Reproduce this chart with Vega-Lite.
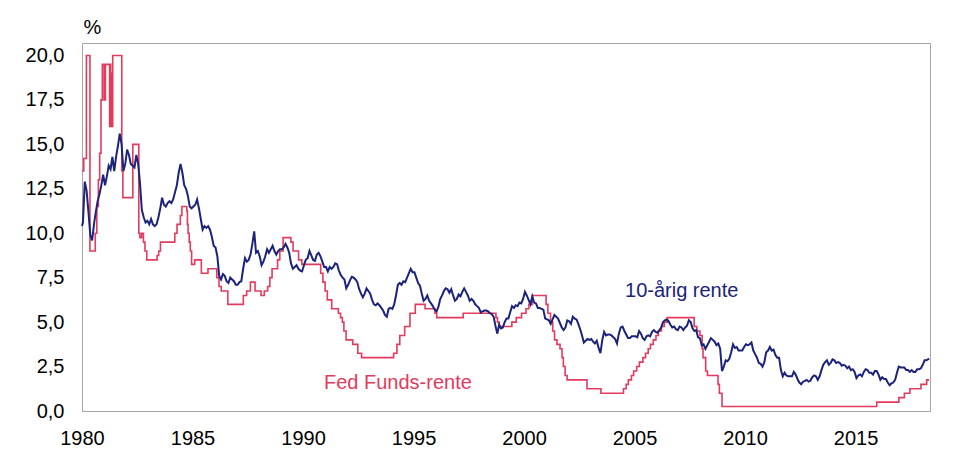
{
"$schema": "https://vega.github.io/schema/vega-lite/v6.json",
"width": 848, "height": 368,
"autosize": "none",
"padding": {"left": 82, "top": 43, "right": 30, "bottom": 63},
"background": "white",
"config": {
  "view": {"stroke": "#a6a6a6", "strokeWidth": 1},
  "font": "Liberation Sans",
  "axis": {"grid": false, "ticks": false, "domain": false, "labelFlush": false, "labelFont": "Liberation Sans", "labelFontSize": 20, "labelColor": "#000000"}
},
"datasets": {
"ff": [
{"t":1980.0,"v":13.5},{"t":1980.08,"v":14.2},{"t":1980.2,"v":20.0},{"t":1980.36,"v":9.0},{"t":1980.6,"v":10.0},{"t":1980.67,"v":11.5},{"t":1980.74,"v":13.0},{"t":1980.8,"v":14.5},{"t":1980.86,"v":17.5},{"t":1980.92,"v":19.5},{"t":1981.0,"v":17.5},{"t":1981.02,"v":19.5},{"t":1981.04,"v":17.5},{"t":1981.06,"v":19.5},{"t":1981.25,"v":16.0},{"t":1981.28,"v":19.5},{"t":1981.3,"v":16.0},{"t":1981.33,"v":19.0},{"t":1981.36,"v":16.0},{"t":1981.39,"v":20.0},{"t":1981.8,"v":13.5},{"t":1981.85,"v":12.0},{"t":1982.3,"v":15.0},{"t":1982.57,"v":10.0},{"t":1982.62,"v":9.75},{"t":1982.7,"v":10.0},{"t":1982.78,"v":9.5},{"t":1982.85,"v":9.0},{"t":1982.93,"v":8.5},{"t":1983.4,"v":8.75},{"t":1983.47,"v":9.0},{"t":1983.55,"v":9.5},{"t":1984.2,"v":10.0},{"t":1984.3,"v":10.5},{"t":1984.45,"v":11.0},{"t":1984.52,"v":11.5},{"t":1984.74,"v":11.25},{"t":1984.77,"v":10.5},{"t":1984.8,"v":10.0},{"t":1984.85,"v":9.5},{"t":1984.9,"v":9.0},{"t":1984.96,"v":8.25},{"t":1985.1,"v":8.5},{"t":1985.4,"v":7.75},{"t":1985.7,"v":8.0},{"t":1986.1,"v":7.5},{"t":1986.2,"v":7.0},{"t":1986.3,"v":6.75},{"t":1986.6,"v":6.0},{"t":1987.3,"v":6.5},{"t":1987.45,"v":6.75},{"t":1987.62,"v":7.25},{"t":1987.83,"v":6.75},{"t":1988.1,"v":6.5},{"t":1988.25,"v":6.75},{"t":1988.4,"v":7.0},{"t":1988.5,"v":7.5},{"t":1988.6,"v":8.0},{"t":1988.85,"v":8.5},{"t":1988.95,"v":9.0},{"t":1989.1,"v":9.75},{"t":1989.45,"v":9.5},{"t":1989.55,"v":9.0},{"t":1989.8,"v":8.5},{"t":1989.95,"v":8.25},{"t":1990.8,"v":7.75},{"t":1990.9,"v":7.25},{"t":1991.0,"v":6.75},{"t":1991.1,"v":6.25},{"t":1991.3,"v":5.75},{"t":1991.6,"v":5.5},{"t":1991.7,"v":5.25},{"t":1991.78,"v":5.0},{"t":1991.85,"v":4.5},{"t":1991.95,"v":4.0},{"t":1992.25,"v":3.75},{"t":1992.48,"v":3.25},{"t":1992.65,"v":3.0},{"t":1994.1,"v":3.25},{"t":1994.25,"v":3.75},{"t":1994.38,"v":4.25},{"t":1994.6,"v":4.75},{"t":1994.84,"v":5.5},{"t":1995.08,"v":6.0},{"t":1995.52,"v":5.75},{"t":1995.97,"v":5.5},{"t":1996.05,"v":5.25},{"t":1997.25,"v":5.5},{"t":1998.73,"v":5.25},{"t":1998.8,"v":5.0},{"t":1998.88,"v":4.75},{"t":1999.45,"v":5.0},{"t":1999.65,"v":5.25},{"t":1999.89,"v":5.5},{"t":2000.09,"v":5.75},{"t":2000.22,"v":6.0},{"t":2000.38,"v":6.5},{"t":2001.0,"v":6.0},{"t":2001.08,"v":5.5},{"t":2001.2,"v":5.0},{"t":2001.3,"v":4.5},{"t":2001.38,"v":4.0},{"t":2001.49,"v":3.75},{"t":2001.63,"v":3.5},{"t":2001.72,"v":3.0},{"t":2001.78,"v":2.5},{"t":2001.86,"v":2.0},{"t":2001.95,"v":1.75},{"t":2002.85,"v":1.25},{"t":2003.48,"v":1.0},{"t":2004.5,"v":1.25},{"t":2004.62,"v":1.5},{"t":2004.72,"v":1.75},{"t":2004.86,"v":2.0},{"t":2004.96,"v":2.25},{"t":2005.1,"v":2.5},{"t":2005.22,"v":2.75},{"t":2005.38,"v":3.0},{"t":2005.5,"v":3.25},{"t":2005.62,"v":3.5},{"t":2005.72,"v":3.75},{"t":2005.85,"v":4.0},{"t":2005.97,"v":4.25},{"t":2006.08,"v":4.5},{"t":2006.22,"v":4.75},{"t":2006.35,"v":5.0},{"t":2006.48,"v":5.25},{"t":2007.7,"v":4.75},{"t":2007.82,"v":4.5},{"t":2007.96,"v":4.25},{"t":2008.06,"v":3.5},{"t":2008.1,"v":3.0},{"t":2008.22,"v":2.25},{"t":2008.3,"v":2.0},{"t":2008.78,"v":1.5},{"t":2008.84,"v":1.0},{"t":2008.96,"v":0.25},{"t":2015.96,"v":0.5},{"t":2016.96,"v":0.75},{"t":2017.21,"v":1.0},{"t":2017.46,"v":1.25},{"t":2017.96,"v":1.5},{"t":2018.22,"v":1.75},{"t":2018.33,"v":1.75}
],
"ust": [
{"t":1980.0,"v":10.4},
{"t":1980.042,"v":10.6},{"t":1980.125,"v":12.9},{"t":1980.208,"v":12.4},{"t":1980.292,"v":11.2},{"t":1980.375,"v":9.9},{"t":1980.458,"v":9.6},{"t":1980.542,"v":10.5},{"t":1980.625,"v":11.2},{"t":1980.708,"v":11.8},{"t":1980.792,"v":12.2},{"t":1980.875,"v":12.7},{"t":1980.958,"v":13.3},
{"t":1981.042,"v":12.7},{"t":1981.125,"v":13.2},{"t":1981.208,"v":13.8},{"t":1981.292,"v":13.6},{"t":1981.375,"v":14.3},{"t":1981.458,"v":13.5},{"t":1981.542,"v":14.3},{"t":1981.625,"v":14.9},{"t":1981.708,"v":15.6},{"t":1981.792,"v":15.0},{"t":1981.875,"v":13.5},{"t":1981.958,"v":13.9},
{"t":1982.042,"v":14.7},{"t":1982.125,"v":14.4},{"t":1982.208,"v":13.9},{"t":1982.292,"v":13.8},{"t":1982.375,"v":13.7},{"t":1982.458,"v":14.4},{"t":1982.542,"v":13.9},{"t":1982.625,"v":12.8},{"t":1982.708,"v":11.3},{"t":1982.792,"v":10.9},{"t":1982.875,"v":10.6},{"t":1982.958,"v":10.7},
{"t":1983.042,"v":10.5},{"t":1983.125,"v":10.8},{"t":1983.208,"v":10.5},{"t":1983.292,"v":10.4},{"t":1983.375,"v":10.5},{"t":1983.458,"v":10.9},{"t":1983.542,"v":11.4},{"t":1983.625,"v":12.0},{"t":1983.708,"v":11.6},{"t":1983.792,"v":11.5},{"t":1983.875,"v":11.7},{"t":1983.958,"v":11.8},
{"t":1984.042,"v":11.7},{"t":1984.125,"v":11.9},{"t":1984.208,"v":12.3},{"t":1984.292,"v":12.7},{"t":1984.375,"v":13.4},{"t":1984.458,"v":13.9},{"t":1984.542,"v":13.4},{"t":1984.625,"v":12.7},{"t":1984.708,"v":12.5},{"t":1984.792,"v":12.1},{"t":1984.875,"v":11.5},{"t":1984.958,"v":11.4},
{"t":1985.042,"v":11.5},{"t":1985.125,"v":11.6},{"t":1985.208,"v":11.9},{"t":1985.292,"v":11.4},{"t":1985.375,"v":10.8},{"t":1985.458,"v":10.2},{"t":1985.542,"v":10.4},{"t":1985.625,"v":10.3},{"t":1985.708,"v":10.4},{"t":1985.792,"v":10.2},{"t":1985.875,"v":9.8},{"t":1985.958,"v":9.3},
{"t":1986.042,"v":9.2},{"t":1986.125,"v":8.7},{"t":1986.208,"v":7.6},{"t":1986.292,"v":7.4},{"t":1986.375,"v":7.7},{"t":1986.458,"v":7.6},{"t":1986.542,"v":7.3},{"t":1986.625,"v":7.2},{"t":1986.708,"v":7.5},{"t":1986.792,"v":7.4},{"t":1986.875,"v":7.3},{"t":1986.958,"v":7.1},
{"t":1987.042,"v":7.1},{"t":1987.125,"v":7.25},{"t":1987.208,"v":7.3},{"t":1987.292,"v":8.0},{"t":1987.375,"v":8.6},{"t":1987.458,"v":8.4},{"t":1987.542,"v":8.5},{"t":1987.625,"v":8.8},{"t":1987.708,"v":9.4},{"t":1987.792,"v":10.1},{"t":1987.875,"v":8.9},{"t":1987.958,"v":9.0},
{"t":1988.042,"v":8.7},{"t":1988.125,"v":8.2},{"t":1988.208,"v":8.4},{"t":1988.292,"v":8.7},{"t":1988.375,"v":9.1},{"t":1988.458,"v":8.9},{"t":1988.542,"v":9.1},{"t":1988.625,"v":9.3},{"t":1988.708,"v":9.0},{"t":1988.792,"v":8.8},{"t":1988.875,"v":9.0},{"t":1988.958,"v":9.1},
{"t":1989.042,"v":9.1},{"t":1989.125,"v":9.2},{"t":1989.208,"v":9.4},{"t":1989.292,"v":9.2},{"t":1989.375,"v":8.9},{"t":1989.458,"v":8.3},{"t":1989.542,"v":8.0},{"t":1989.625,"v":8.1},{"t":1989.708,"v":8.2},{"t":1989.792,"v":8.0},{"t":1989.875,"v":7.9},{"t":1989.958,"v":7.85},
{"t":1990.042,"v":8.2},{"t":1990.125,"v":8.5},{"t":1990.208,"v":8.6},{"t":1990.292,"v":9.0},{"t":1990.375,"v":8.75},{"t":1990.458,"v":8.5},{"t":1990.542,"v":8.45},{"t":1990.625,"v":8.8},{"t":1990.708,"v":8.9},{"t":1990.792,"v":8.7},{"t":1990.875,"v":8.4},{"t":1990.958,"v":8.1},
{"t":1991.042,"v":8.1},{"t":1991.125,"v":7.85},{"t":1991.208,"v":8.1},{"t":1991.292,"v":8.0},{"t":1991.375,"v":8.1},{"t":1991.458,"v":8.3},{"t":1991.542,"v":8.25},{"t":1991.625,"v":7.9},{"t":1991.708,"v":7.65},{"t":1991.792,"v":7.5},{"t":1991.875,"v":7.4},{"t":1991.958,"v":6.9},
{"t":1992.042,"v":7.1},{"t":1992.125,"v":7.35},{"t":1992.208,"v":7.55},{"t":1992.292,"v":7.5},{"t":1992.375,"v":7.4},{"t":1992.458,"v":7.25},{"t":1992.542,"v":6.85},{"t":1992.625,"v":6.6},{"t":1992.708,"v":6.4},{"t":1992.792,"v":6.6},{"t":1992.875,"v":6.9},{"t":1992.958,"v":6.75},
{"t":1993.042,"v":6.6},{"t":1993.125,"v":6.25},{"t":1993.208,"v":6.0},{"t":1993.292,"v":5.95},{"t":1993.375,"v":6.05},{"t":1993.458,"v":5.95},{"t":1993.542,"v":5.8},{"t":1993.625,"v":5.65},{"t":1993.708,"v":5.4},{"t":1993.792,"v":5.3},{"t":1993.875,"v":5.75},{"t":1993.958,"v":5.8},
{"t":1994.042,"v":5.75},{"t":1994.125,"v":6.0},{"t":1994.208,"v":6.5},{"t":1994.292,"v":7.1},{"t":1994.375,"v":7.2},{"t":1994.458,"v":7.1},{"t":1994.542,"v":7.3},{"t":1994.625,"v":7.25},{"t":1994.708,"v":7.5},{"t":1994.792,"v":7.75},{"t":1994.875,"v":8.0},{"t":1994.958,"v":7.8},
{"t":1995.042,"v":7.8},{"t":1995.125,"v":7.5},{"t":1995.208,"v":7.2},{"t":1995.292,"v":7.05},{"t":1995.375,"v":6.6},{"t":1995.458,"v":6.2},{"t":1995.542,"v":6.3},{"t":1995.625,"v":6.5},{"t":1995.708,"v":6.2},{"t":1995.792,"v":6.05},{"t":1995.875,"v":5.9},{"t":1995.958,"v":5.7},
{"t":1996.042,"v":5.6},{"t":1996.125,"v":5.85},{"t":1996.208,"v":6.3},{"t":1996.292,"v":6.5},{"t":1996.375,"v":6.75},{"t":1996.458,"v":6.9},{"t":1996.542,"v":6.85},{"t":1996.625,"v":6.65},{"t":1996.708,"v":6.85},{"t":1996.792,"v":6.5},{"t":1996.875,"v":6.2},{"t":1996.958,"v":6.3},
{"t":1997.042,"v":6.55},{"t":1997.125,"v":6.45},{"t":1997.208,"v":6.7},{"t":1997.292,"v":6.9},{"t":1997.375,"v":6.7},{"t":1997.458,"v":6.5},{"t":1997.542,"v":6.2},{"t":1997.625,"v":6.3},{"t":1997.708,"v":6.2},{"t":1997.792,"v":6.0},{"t":1997.875,"v":5.9},{"t":1997.958,"v":5.8},
{"t":1998.042,"v":5.55},{"t":1998.125,"v":5.6},{"t":1998.208,"v":5.65},{"t":1998.292,"v":5.65},{"t":1998.375,"v":5.6},{"t":1998.458,"v":5.5},{"t":1998.542,"v":5.45},{"t":1998.625,"v":5.3},{"t":1998.708,"v":4.8},{"t":1998.792,"v":4.35},{"t":1998.875,"v":4.85},{"t":1998.958,"v":4.65},
{"t":1999.042,"v":4.7},{"t":1999.125,"v":5.0},{"t":1999.208,"v":5.2},{"t":1999.292,"v":5.2},{"t":1999.375,"v":5.55},{"t":1999.458,"v":5.9},{"t":1999.542,"v":5.8},{"t":1999.625,"v":5.95},{"t":1999.708,"v":5.9},{"t":1999.792,"v":6.1},{"t":1999.875,"v":6.05},{"t":1999.958,"v":6.3},
{"t":2000.042,"v":6.7},{"t":2000.125,"v":6.5},{"t":2000.208,"v":6.25},{"t":2000.292,"v":6.0},{"t":2000.375,"v":6.45},{"t":2000.458,"v":6.1},{"t":2000.542,"v":6.05},{"t":2000.625,"v":5.8},{"t":2000.708,"v":5.8},{"t":2000.792,"v":5.75},{"t":2000.875,"v":5.7},{"t":2000.958,"v":5.2},
{"t":2001.042,"v":5.15},{"t":2001.125,"v":5.1},{"t":2001.208,"v":4.9},{"t":2001.292,"v":5.15},{"t":2001.375,"v":5.4},{"t":2001.458,"v":5.3},{"t":2001.542,"v":5.2},{"t":2001.625,"v":4.95},{"t":2001.708,"v":4.7},{"t":2001.792,"v":4.55},{"t":2001.875,"v":4.7},{"t":2001.958,"v":5.1},
{"t":2002.042,"v":5.05},{"t":2002.125,"v":4.9},{"t":2002.208,"v":5.3},{"t":2002.292,"v":5.2},{"t":2002.375,"v":5.15},{"t":2002.458,"v":4.9},{"t":2002.542,"v":4.6},{"t":2002.625,"v":4.25},{"t":2002.708,"v":3.85},{"t":2002.792,"v":3.95},{"t":2002.875,"v":4.05},{"t":2002.958,"v":4.0},
{"t":2003.042,"v":4.05},{"t":2003.125,"v":3.9},{"t":2003.208,"v":3.8},{"t":2003.292,"v":3.95},{"t":2003.375,"v":3.55},{"t":2003.458,"v":3.25},{"t":2003.542,"v":4.0},{"t":2003.625,"v":4.45},{"t":2003.708,"v":4.25},{"t":2003.792,"v":4.3},{"t":2003.875,"v":4.3},{"t":2003.958,"v":4.25},
{"t":2004.042,"v":4.15},{"t":2004.125,"v":4.05},{"t":2004.208,"v":3.8},{"t":2004.292,"v":4.35},{"t":2004.375,"v":4.7},{"t":2004.458,"v":4.75},{"t":2004.542,"v":4.5},{"t":2004.625,"v":4.3},{"t":2004.708,"v":4.1},{"t":2004.792,"v":4.1},{"t":2004.875,"v":4.2},{"t":2004.958,"v":4.2},
{"t":2005.042,"v":4.2},{"t":2005.125,"v":4.15},{"t":2005.208,"v":4.5},{"t":2005.292,"v":4.35},{"t":2005.375,"v":4.1},{"t":2005.458,"v":4.0},{"t":2005.542,"v":4.2},{"t":2005.625,"v":4.25},{"t":2005.708,"v":4.2},{"t":2005.792,"v":4.45},{"t":2005.875,"v":4.55},{"t":2005.958,"v":4.45},
{"t":2006.042,"v":4.4},{"t":2006.125,"v":4.55},{"t":2006.208,"v":4.7},{"t":2006.292,"v":5.0},{"t":2006.375,"v":5.1},{"t":2006.458,"v":5.15},{"t":2006.542,"v":5.05},{"t":2006.625,"v":4.85},{"t":2006.708,"v":4.7},{"t":2006.792,"v":4.75},{"t":2006.875,"v":4.6},{"t":2006.958,"v":4.55},
{"t":2007.042,"v":4.75},{"t":2007.125,"v":4.7},{"t":2007.208,"v":4.55},{"t":2007.292,"v":4.7},{"t":2007.375,"v":4.8},{"t":2007.458,"v":5.1},{"t":2007.542,"v":5.0},{"t":2007.625,"v":4.65},{"t":2007.708,"v":4.5},{"t":2007.792,"v":4.55},{"t":2007.875,"v":4.15},{"t":2007.958,"v":4.1},
{"t":2008.042,"v":3.7},{"t":2008.125,"v":3.75},{"t":2008.208,"v":3.5},{"t":2008.292,"v":3.7},{"t":2008.375,"v":3.9},{"t":2008.458,"v":4.1},{"t":2008.542,"v":4.0},{"t":2008.625,"v":3.9},{"t":2008.708,"v":3.7},{"t":2008.792,"v":3.8},{"t":2008.875,"v":3.5},{"t":2008.958,"v":2.25},
{"t":2009.042,"v":2.5},{"t":2009.125,"v":2.85},{"t":2009.208,"v":2.8},{"t":2009.292,"v":2.95},{"t":2009.375,"v":3.3},{"t":2009.458,"v":3.75},{"t":2009.542,"v":3.55},{"t":2009.625,"v":3.6},{"t":2009.708,"v":3.4},{"t":2009.792,"v":3.4},{"t":2009.875,"v":3.4},{"t":2009.958,"v":3.6},
{"t":2010.042,"v":3.75},{"t":2010.125,"v":3.7},{"t":2010.208,"v":3.75},{"t":2010.292,"v":3.85},{"t":2010.375,"v":3.4},{"t":2010.458,"v":3.2},{"t":2010.542,"v":3.0},{"t":2010.625,"v":2.7},{"t":2010.708,"v":2.65},{"t":2010.792,"v":2.5},{"t":2010.875,"v":2.75},{"t":2010.958,"v":3.3},
{"t":2011.042,"v":3.4},{"t":2011.125,"v":3.6},{"t":2011.208,"v":3.4},{"t":2011.292,"v":3.45},{"t":2011.375,"v":3.15},{"t":2011.458,"v":3.0},{"t":2011.542,"v":3.0},{"t":2011.625,"v":2.3},{"t":2011.708,"v":1.95},{"t":2011.792,"v":2.15},{"t":2011.875,"v":2.0},{"t":2011.958,"v":1.95},
{"t":2012.042,"v":1.95},{"t":2012.125,"v":1.95},{"t":2012.208,"v":2.2},{"t":2012.292,"v":2.05},{"t":2012.375,"v":1.8},{"t":2012.458,"v":1.6},{"t":2012.542,"v":1.5},{"t":2012.625,"v":1.65},{"t":2012.708,"v":1.7},{"t":2012.792,"v":1.75},{"t":2012.875,"v":1.65},{"t":2012.958,"v":1.7},
{"t":2013.042,"v":1.9},{"t":2013.125,"v":2.0},{"t":2013.208,"v":1.95},{"t":2013.292,"v":1.75},{"t":2013.375,"v":1.95},{"t":2013.458,"v":2.3},{"t":2013.542,"v":2.6},{"t":2013.625,"v":2.75},{"t":2013.708,"v":2.85},{"t":2013.792,"v":2.6},{"t":2013.875,"v":2.7},{"t":2013.958,"v":2.9},
{"t":2014.042,"v":2.85},{"t":2014.125,"v":2.7},{"t":2014.208,"v":2.75},{"t":2014.292,"v":2.7},{"t":2014.375,"v":2.55},{"t":2014.458,"v":2.6},{"t":2014.542,"v":2.55},{"t":2014.625,"v":2.4},{"t":2014.708,"v":2.5},{"t":2014.792,"v":2.3},{"t":2014.875,"v":2.35},{"t":2014.958,"v":2.2},
{"t":2015.042,"v":1.85},{"t":2015.125,"v":2.0},{"t":2015.208,"v":2.05},{"t":2015.292,"v":1.95},{"t":2015.375,"v":2.2},{"t":2015.458,"v":2.35},{"t":2015.542,"v":2.3},{"t":2015.625,"v":2.15},{"t":2015.708,"v":2.15},{"t":2015.792,"v":2.05},{"t":2015.875,"v":2.25},{"t":2015.958,"v":2.25},
{"t":2016.042,"v":2.05},{"t":2016.125,"v":1.75},{"t":2016.208,"v":1.9},{"t":2016.292,"v":1.8},{"t":2016.375,"v":1.8},{"t":2016.458,"v":1.6},{"t":2016.542,"v":1.45},{"t":2016.625,"v":1.55},{"t":2016.708,"v":1.6},{"t":2016.792,"v":1.75},{"t":2016.875,"v":2.15},{"t":2016.958,"v":2.5},
{"t":2017.042,"v":2.45},{"t":2017.125,"v":2.45},{"t":2017.208,"v":2.45},{"t":2017.292,"v":2.3},{"t":2017.375,"v":2.3},{"t":2017.458,"v":2.2},{"t":2017.542,"v":2.3},{"t":2017.625,"v":2.2},{"t":2017.708,"v":2.2},{"t":2017.792,"v":2.35},{"t":2017.875,"v":2.35},{"t":2017.958,"v":2.4},
{"t":2018.042,"v":2.6},{"t":2018.125,"v":2.85},{"t":2018.208,"v":2.85},{"t":2018.33,"v":2.95}
],
"labels": [
{"t":2004.57,"v":6.42,"label":"10-årig rente","s":"ust"},
{"t":1990.95,"v":1.24,"label":"Fed Funds-rente","s":"ff"}
]
},
"layer": [
{
  "data": {"name": "ff"},
  "mark": {"type": "line", "interpolate": "step-after", "color": "#e23b5e", "strokeWidth": 1.6},
  "encoding": {
    "x": {"field": "t", "type": "quantitative", "scale": {"domain": [1980, 2018.37], "nice": false, "zero": false},
          "axis": {"values": [1980, 1985, 1990, 1995, 2000, 2005, 2010, 2015], "format": "d", "labelPadding": 17, "labelFlush": false, "title": null}},
    "y": {"field": "v", "type": "quantitative", "scale": {"domain": [0, 20.7], "nice": false},
          "axis": {"values": [0, 2.5, 5, 7.5, 10, 12.5, 15, 17.5, 20], "labelExpr": "replace(format(datum.value, '.1f'), '.', ',')", "labelPadding": 18, "labelFlush": false,
                   "title": "%", "titleAngle": 0, "titleAlign": "left", "titleX": 1, "titleY": -10, "titleBaseline": "alphabetic",
                   "titleFontWeight": "normal", "titleFontSize": 20, "titleFont": "Liberation Sans", "titleColor": "#000000"}}
  }
},
{
  "data": {"name": "ust"},
  "mark": {"type": "line", "color": "#1b237a", "strokeWidth": 2},
  "encoding": {
    "x": {"field": "t", "type": "quantitative"},
    "y": {"field": "v", "type": "quantitative"}
  }
},
{
  "data": {"name": "labels"},
  "mark": {"type": "text", "align": "left", "baseline": "alphabetic", "fontSize": 20, "font": "Liberation Sans"},
  "encoding": {
    "x": {"field": "t", "type": "quantitative"},
    "y": {"field": "v", "type": "quantitative"},
    "text": {"field": "label"},
    "color": {"field": "s", "type": "nominal", "scale": {"domain": ["ust", "ff"], "range": ["#1b237a", "#e23b5e"]}, "legend": null}
  }
}
]
}
